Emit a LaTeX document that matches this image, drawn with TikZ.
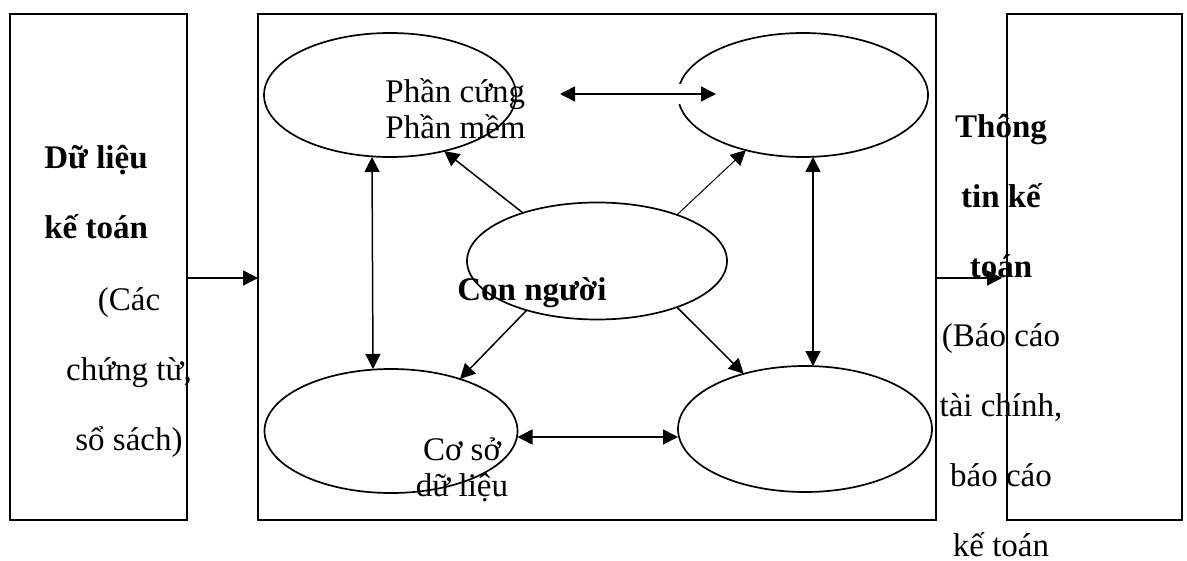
\documentclass[tikz,border=0pt]{standalone}
\usepackage{fontspec}
\setmainfont{Liberation Serif}
\usetikzlibrary{arrows.meta,shapes,positioning}

\begin{document}
\begin{tikzpicture}
[
	x	= 0.5pt,	% one unit for each pixel of the layout
	y	= -0.5pt,	% y runs downwards
	box/.style	= {draw, line width=0.85pt, inner sep=0pt, outer sep=0pt},
	oval/.style	= {ellipse, draw, line width=0.85pt, inner sep=0pt, outer sep=0pt},
	link/.style	= {-{Triangle[length=7.5pt,width=7.5pt]}, line width=0.75pt},
	both/.style	= {{Triangle[length=7.5pt,width=7.5pt]}-{Triangle[length=7.5pt,width=7.5pt]}, line width=0.75pt},
	txt/.style	= {inner sep=0pt, font=\fontsize{16.5}{35}\selectfont},
	bold/.style	= {inner sep=0pt, font=\fontsize{16.5}{35}\selectfont\bfseries},
	inner/.style	= {inner sep=0pt, font=\fontsize{16.5}{18}\selectfont},
]

\useasboundingbox (0,0) rectangle (1187,561);

% the three boxes
\node [box, minimum width=88.5pt, minimum height=253pt] (lb) at (98.25,267) {};
\node [box, minimum width=339pt, minimum height=253pt] (mb) at (597,267) {};
\node [box, minimum width=87.5pt, minimum height=253pt] (rb) at (1094.5,267) {};

% the five ovals
\node [oval, minimum width=126pt, minimum height=62pt] (hw) at (390,95) {};
\node [oval, minimum width=125pt, minimum height=62pt] (ne) at (803,95) {};
\node [oval, minimum width=126.5pt, minimum height=62pt] (db) at (391,431) {};
\node [oval, minimum width=127pt, minimum height=63pt] (se) at (805,429) {};
\node [oval, minimum width=130pt, minimum height=58.5pt] (ppl) at (597,261) {};
\fill [white] (672,84) rectangle (686,104);

\draw [link] ([yshift=-5.5pt]lb.east) -- ([yshift=-5.5pt]mb.west);
\draw [link] ([yshift=-5.5pt]mb.east) -- ([yshift=-5.5pt,xshift=-2.5pt]rb.west);

\draw [both] ([xshift=22pt,yshift=0.5pt]hw.east) -- ([xshift=19pt,yshift=0.5pt]ne.west);
\draw [both] ([xshift=-9pt]hw.south) -- ([xshift=-9pt]db.north);
\draw [both] ([xshift=5pt]ne.south) -- ([xshift=4pt]se.north);
\draw [both] ([yshift=-3pt]db.east) -- ([yshift=-4pt]se.west);

\draw [link] (ppl.147) -- (hw.-46);
\draw [link, line width=0.5pt] (ppl.30) -- (ne.224);
\draw [link] (ppl.215) -- (db.37);
\draw [link] (ppl.-30) -- (se.138);

% texts (the base of a block is its last line)
\node [bold, anchor=base west, align=left] (intitle) at (44,238) {Dữ liệu\\kế toán};
\node [txt, anchor=base, align=center] (innote) at (129,450) {(Các\\chứng từ,\\sổ sách)};
\node [bold, anchor=base, align=center] (outtitle) at (1001,277) {Thông\\tin kế\\toán};
\node [txt, anchor=base, align=center] (outnote) at (1001,556) {(Báo cáo\\tài chính,\\báo cáo\\kế toán};
\node [inner, anchor=base west, align=left] (hwtxt) at (385,139) {Phần cứng\\Phần mềm};
\node [inner, anchor=base, align=center] (dbtxt) at (462,496) {Cơ sở\\dữ liệu};
\node [bold, anchor=base west] (ppltxt) at (457,300) {Con người};

\end{tikzpicture}
\end{document}
